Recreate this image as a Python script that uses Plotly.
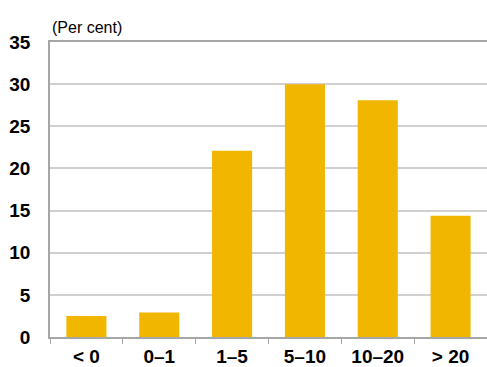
import plotly.graph_objects as go

# Share of observations by growth band
categories = ["< 0", "0–1", "1–5", "5–10", "10–20", "> 20"]
values = [2.5, 2.9, 22.1, 30.0, 28.1, 14.4]
y_ticks = [0, 5, 10, 15, 20, 25, 30, 35]

BAR = "#F0B600"
GRID = "#D0D0D0"
AXIS = "#A6A6A6"
FONT = "Liberation Sans, Arial, sans-serif"

fig = go.Figure(
    go.Bar(
        x=categories,
        y=values,
        marker=dict(color=BAR, line=dict(width=0)),
        hoverinfo="x+y",
    )
)

fig.update_layout(
    width=487,
    height=367,
    margin=dict(l=50, r=0, t=42, b=30),
    paper_bgcolor="white",
    plot_bgcolor="white",
    bargap=0.45,
    showlegend=False,
    font=dict(family=FONT, color="black"),
    annotations=[
        dict(
            text="(Per cent)",
            xref="paper", yref="paper",
            x=0, y=1, xanchor="left", yanchor="bottom",
            yshift=4, showarrow=False,
            font=dict(family=FONT, size=16, color="black"),
        )
    ],
)

fig.update_xaxes(
    type="category",
    automargin=False,
    showline=True,
    linecolor=AXIS,
    linewidth=1.5,
    mirror=True,
    ticks="outside",
    tickson="boundaries",
    ticklen=5,
    tickcolor=AXIS,
    ticklabelstandoff=1,
    showgrid=False,
    tickfont=dict(family=FONT, size=19, color="black", weight="bold"),
)

fig.update_yaxes(
    range=[0, 35],
    automargin=False,
    tickvals=y_ticks,
    showline=True,
    linecolor=AXIS,
    linewidth=1.5,
    showgrid=True,
    gridcolor=GRID,
    gridwidth=1.5,
    zeroline=False,
    ticks="outside",
    ticklen=14,
    tickcolor="rgba(0,0,0,0)",
    tickfont=dict(family=FONT, size=19, color="black", weight="bold"),
)

fig.write_html("out.html")
